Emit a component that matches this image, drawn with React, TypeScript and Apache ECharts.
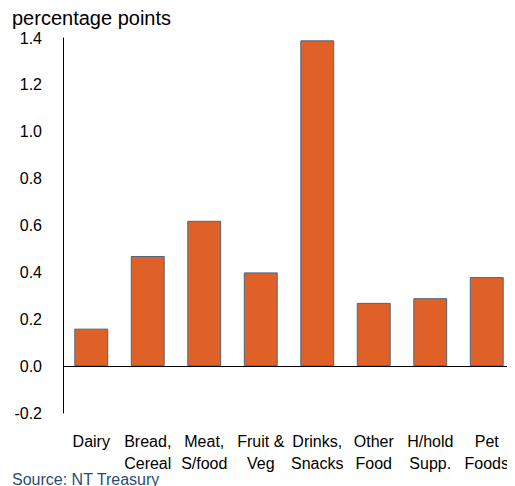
import React, { useEffect, useRef } from "react";
import * as echarts from "echarts";

const categories = ["Dairy", "Bread,\nCereal", "Meat,\nS/food", "Fruit &\nVeg", "Drinks,\nSnacks", "Other\nFood", "H/hold\nSupp.", "Pet\nFoods"];
const values = [0.16, 0.47, 0.62, 0.4, 1.39, 0.27, 0.29, 0.38];
const yMin = -0.2;
const yMax = 1.4;
const yStep = 0.2;

export default function App() {
  const ref = useRef<HTMLDivElement>(null);
  useEffect(() => {
    if (!ref.current) return;
    const chart = echarts.init(ref.current, undefined, { renderer: "svg" });
    chart.setOption({
      animation: false,
      textStyle: { fontFamily: "Liberation Sans, Arial, sans-serif" },
      title: [
        {
          text: "percentage points",
          left: 4,
          top: 0,
          padding: 0,
          textStyle: { fontSize: 20, fontWeight: "normal", color: "#000", fontFamily: "Liberation Sans, Arial, sans-serif" },
        },
        {
          text: "Source: NT Treasury",
          left: 4,
          top: 463,
          padding: 0,
          textStyle: { fontSize: 16, fontWeight: "normal", color: "#1f4e79", fontFamily: "Liberation Sans, Arial, sans-serif" },
        },
      ],
      grid: { left: 55, right: 0, top: 30, bottom: 73 },
      xAxis: {
        type: "category",
        data: categories,
        axisLine: { show: false, onZero: false },
        axisTick: { show: false },
        axisLabel: {
          interval: 0,
          margin: 17,
          fontSize: 16,
          lineHeight: 22,
          verticalAlign: "top",
          color: "#000",
        },
      },
      yAxis: {
        type: "value",
        min: yMin,
        max: yMax,
        interval: yStep,
        axisLine: { show: true, lineStyle: { color: "#000", width: 1 } },
        axisTick: { show: false },
        splitLine: { show: false },
        axisLabel: {
          margin: 21,
          fontSize: 16,
          color: "#000",
          formatter: (v: number) => v.toFixed(1),
        },
      },
      series: [
        {
          type: "bar",
          data: values,
          barWidth: "60%",
          itemStyle: { color: "#df6127", borderColor: "#4d6482", borderWidth: 1 },
          markLine: {
            silent: true,
            symbol: "none",
            label: { show: false },
            lineStyle: { color: "#000", type: "solid", width: 1 },
            data: [{ yAxis: 0 }],
          },
        },
      ],
    });
    return () => chart.dispose();
  }, []);
  return <div ref={ref} style={{ width: 507, height: 478 }} />;
}
